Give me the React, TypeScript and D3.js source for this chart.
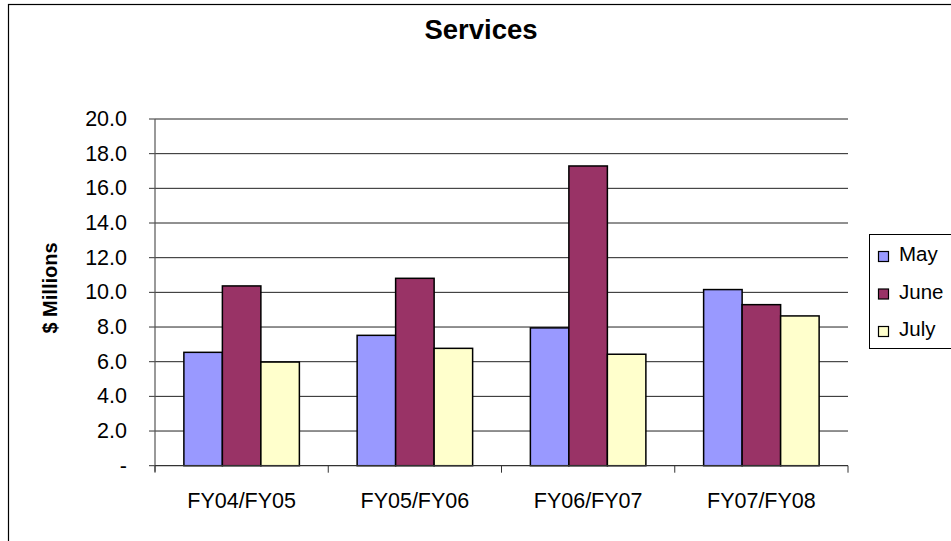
import React from "react";
import * as d3 from "d3";

const categories = ["FY04/FY05", "FY05/FY06", "FY06/FY07", "FY07/FY08"];
const seriesNames = ["May", "June", "July"];
const mayValues = [6.54, 7.52, 7.95, 10.16];
const juneValues = [10.37, 10.81, 17.29, 9.29];
const julyValues = [5.98, 6.77, 6.43, 8.64];
const yTicks = [0, 2, 4, 6, 8, 10, 12, 14, 16, 18, 20];
const colors = ["#9999FF", "#993366", "#FFFFCC"];

export default function App() {
  const W = 951, H = 541;
  const left = 155, right = 848, top = 119, bottom = 465.7;
  const series = [mayValues, juneValues, julyValues];
  const x0 = d3.scaleBand().domain(categories).range([left, right]).paddingInner(0).paddingOuter(0);
  const y = d3.scaleLinear().domain([0, 20]).range([bottom, top]);
  const bw = x0.bandwidth() / 4.5;
  const font = "'Liberation Sans', Arial, sans-serif";

  return (
    <div style={{ position: "absolute", left: 0, top: 0 }}>
      <svg width={W} height={H} style={{ display: "block" }}>
        <rect x={0} y={0} width={W} height={H} fill="#fff" />
        <rect x={8.5} y={4.5} width={W + 20} height={H + 20} fill="none" stroke="#000" strokeWidth={1.2} />
        <text x={481} y={38.5} textAnchor="middle" fontFamily={font} fontWeight="bold" fontSize={27.5}>Services</text>
        {yTicks.map((t) => (
          <g key={t}>
            {t > 0 && <line x1={left} x2={right} y1={y(t)} y2={y(t)} stroke="#222" strokeWidth={1} />}
            <line x1={left - 6} x2={left} y1={y(t)} y2={y(t)} stroke="#333" strokeWidth={1} />
            <text x={127} y={y(t) + 7} textAnchor="end" fontFamily={font} fontSize={21.5}>
              {t === 0 ? "-" : t.toFixed(1)}
            </text>
          </g>
        ))}
        <text transform={`translate(57,288) rotate(-90)`} textAnchor="middle" fontFamily={font} fontWeight="bold" fontSize={20}>$ Millions</text>
        {categories.map((c, i) => {
          const gx = (x0(c) as number) + (x0.bandwidth() - 3 * bw) / 2;
          return (
            <g key={c}>
              {series.map((s, j) => (
                <rect key={j} x={gx + j * bw} y={y(s[i])} width={bw} height={bottom - y(s[i])} fill={colors[j]} stroke="#000" strokeWidth={1.5} />
              ))}
              <text x={(x0(c) as number) + x0.bandwidth() / 2} y={508} textAnchor="middle" fontFamily={font} fontSize={21.5}>{c}</text>
            </g>
          );
        })}
        <line x1={left} x2={left} y1={top} y2={bottom + 6} stroke="#555" strokeWidth={1.2} />
        <line x1={left} x2={right} y1={bottom} y2={bottom} stroke="#333" strokeWidth={1.2} />
        {categories.concat(["end"]).map((c, i) => {
          const xx = left + i * x0.bandwidth();
          return <line key={i} x1={xx} x2={xx} y1={bottom} y2={bottom + 7} stroke="#333" strokeWidth={1} />;
        })}
        <rect x={869.5} y={234.5} width={100} height={114} fill="#fff" stroke="#000" strokeWidth={1} />
        {seriesNames.map((n, j) => (
          <g key={n}>
            <rect x={878.5} y={251.5 + j * 37.5} width={10} height={10} fill={colors[j]} stroke="#000" strokeWidth={1.2} />
            <text x={899} y={261 + j * 37.5} fontFamily={font} fontSize={20.5}>{n}</text>
          </g>
        ))}
      </svg>
    </div>
  );
}
